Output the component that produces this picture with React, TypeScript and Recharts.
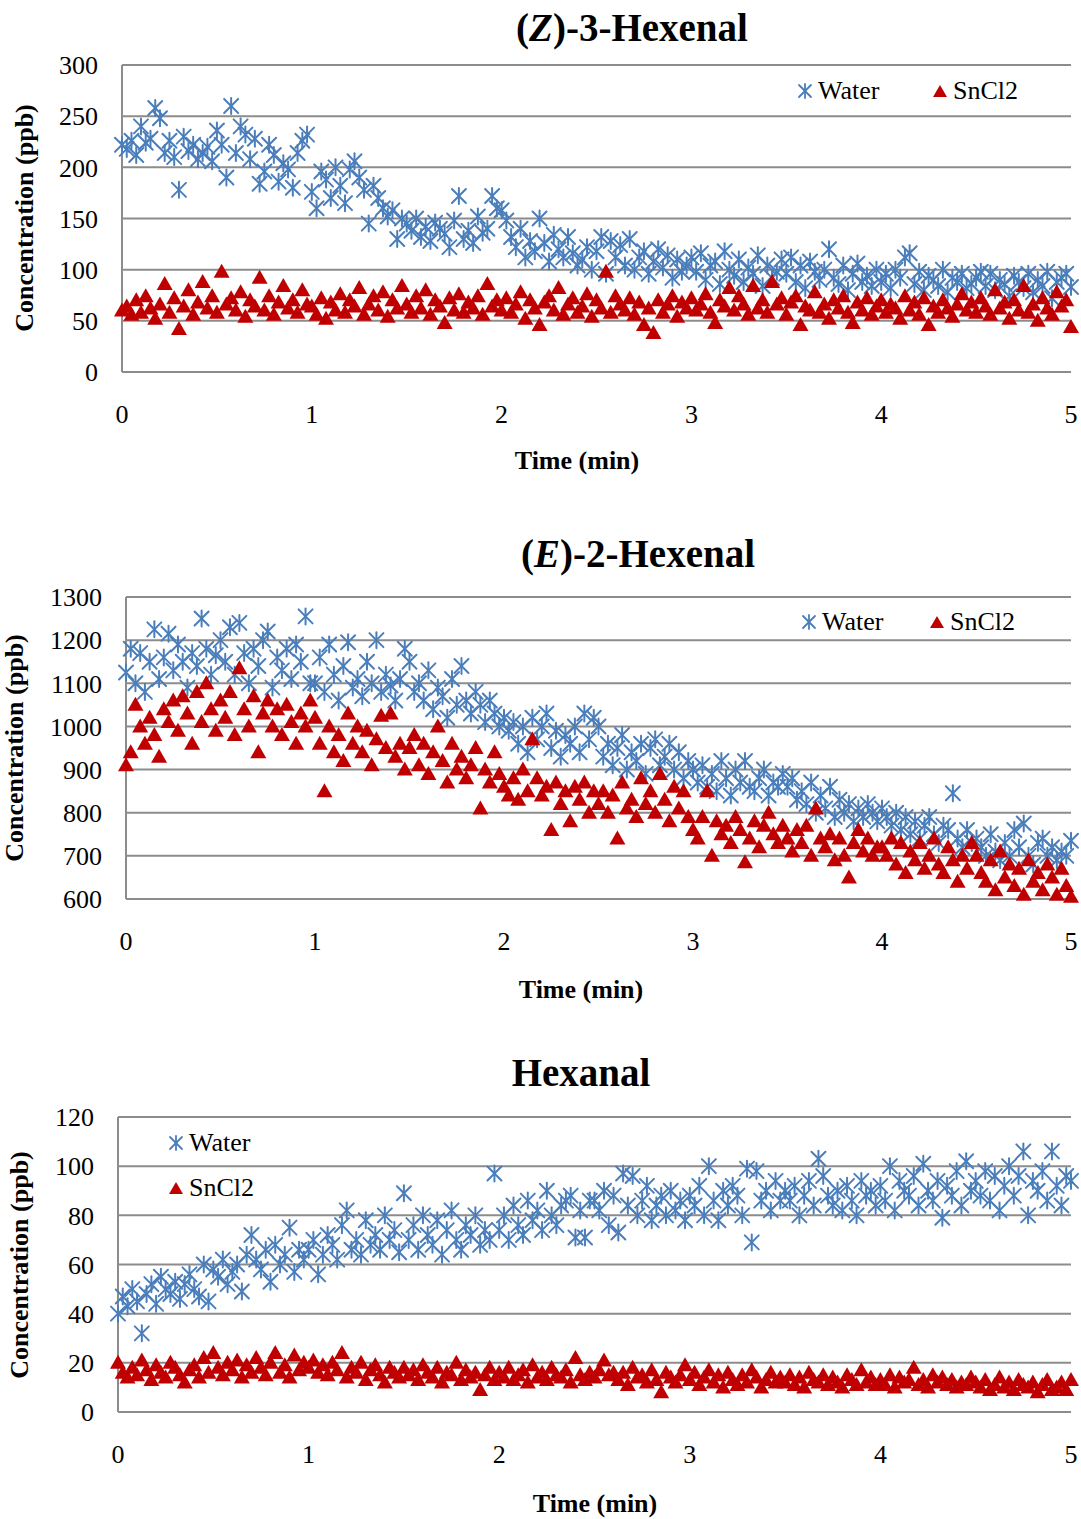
import React from "react";
import { CartesianGrid, Scatter, ScatterChart, XAxis, YAxis } from "recharts";

// sampling interval of the PTR-MS traces (min)
const STEP_MIN = 0.025;
const X_TICKS = [0, 1, 2, 3, 4, 5];

// (Z)-3-Hexenal, ppb
const Z3_TICKS = [0, 50, 100, 150, 200, 250, 300];
const z3Water = [
  222, 218, 226, 212, 240, 224, 228, 258, 248, 214, 226, 210, 178, 230, 216, 222, 208, 214, 220, 206,
  236, 222, 190, 260, 214, 240, 232, 208, 228, 184, 196, 222, 212, 186, 204, 198, 180, 214, 226, 232,
  176, 160, 196, 188, 170, 200, 182, 165, 198, 206, 190, 178, 145, 182, 170, 160, 152, 158, 130, 150,
  145, 138, 150, 132, 142, 128, 146, 140, 135, 122, 148, 172, 130, 138, 126, 152, 136, 140, 172, 160,
  158, 148, 132, 122, 140, 112, 128, 118, 150, 126, 108, 134, 120, 112, 132, 116, 104, 110, 122, 100,
  118, 132, 96, 128, 112, 124, 104, 130, 100, 112, 118, 96, 108, 120, 102, 114, 92, 110, 98, 104,
  112, 98, 116, 90, 104, 108, 86, 118, 100, 94, 110, 88, 102, 96, 114, 84, 104, 92, 98, 110,
  96, 112, 88, 104, 82, 108, 98, 90, 100, 120, 92, 86, 104, 80, 96, 106, 88, 94, 84, 100,
  88, 96, 82, 100, 92, 112, 116, 86, 98, 80, 94, 90, 84, 100, 78, 92, 88, 96, 82, 86,
  92, 98, 84, 96, 80, 90, 86, 74, 94, 88, 82, 96, 78, 90, 84, 98, 72, 88, 92, 96,
  83,
];
const z3Sn = [
  60, 64, 56, 70, 58, 74, 62, 52, 66, 86, 58, 72, 42, 64, 80, 56, 68, 88, 62, 74,
  58, 98, 66, 72, 60, 78, 54, 70, 64, 92, 60, 74, 56, 68, 84, 62, 70, 58, 80, 66,
  64, 56, 72, 52, 68, 60, 76, 58, 70, 64, 82, 56, 66, 74, 60, 78, 54, 70, 62, 84,
  66, 58, 74, 62, 80, 56, 70, 64, 48, 72, 60, 76, 58, 68, 62, 74, 56, 86, 64, 70,
  60, 72, 58, 66, 78, 52, 70, 62, 46, 68, 74, 60, 82, 56, 66, 72, 58, 64, 76, 54,
  70, 62, 98, 58, 74, 66, 60, 72, 56, 68, 46, 62, 38, 70, 58, 66, 74, 54, 68, 62,
  72, 60, 66, 76, 58, 48, 70, 64, 82, 60, 74, 66, 56, 84, 62, 70, 58, 88, 66, 72,
  56, 68, 74, 46, 64, 60, 78, 58, 66, 52, 70, 62, 74, 58, 48, 68, 60, 72, 56, 64,
  70, 58, 66, 62, 52, 74, 60, 68, 56, 72, 46, 64, 58, 70, 62, 54, 66, 76, 60, 68,
  58, 72, 64, 56, 80, 62, 68, 52, 70, 60, 84, 58, 66, 50, 72, 62, 56, 78, 64, 70,
  44,
];

// (E)-2-Hexenal, ppb
const E2_TICKS = [600, 700, 800, 900, 1000, 1100, 1200, 1300];
const e2Water = [
  1125, 1180, 1100, 1170, 1080, 1150, 1225, 1110, 1160, 1215, 1130, 1190, 1150, 1090, 1170, 1140, 1250, 1180, 1120, 1165,
  1200, 1150, 1230, 1120, 1240, 1170, 1100, 1180, 1140, 1200, 1220, 1090, 1160, 1130, 1180, 1110, 1190, 1150, 1255, 1100,
  1100, 1160, 1080, 1190, 1120, 1060, 1140, 1195, 1090, 1110, 1070, 1150, 1100, 1200, 1080, 1120, 1095, 1060, 1110, 1180,
  1150, 1080, 1100, 1060, 1130, 1040, 1090, 1070, 1020, 1110, 1050, 1140, 1060, 1030, 1080, 1050, 1010, 1060, 1030, 1000,
  1020, 990, 1010, 960, 1000, 940, 1020, 970, 1000, 1030, 950, 990, 930, 980, 960, 1000, 940, 1030, 970, 1020,
  1000, 930, 960, 910, 950, 980, 900, 940, 920, 960, 890, 950, 970, 910, 930, 960, 900, 940, 880, 920,
  900, 870, 910, 860, 890, 850, 920, 880, 840, 900, 870, 920, 860, 850, 880, 900, 840, 870, 860, 890,
  860, 880, 830, 850, 820, 870, 800, 840, 810, 860, 790, 830, 800, 820, 780, 810, 790, 820, 800, 780,
  810, 790, 770, 800, 760, 790, 750, 780, 740, 770, 790, 750, 730, 770, 760, 845, 740, 720, 760, 730,
  740, 720, 700, 750, 710, 690, 730, 700, 760, 720, 775, 700, 680, 730, 740, 700, 720, 690, 710, 700,
  735,
];
const e2Sn = [
  910, 940, 1050, 1000, 960, 1020, 980, 930, 1040, 1010, 1060, 990, 1070, 1030, 960, 1080, 1010, 1100, 1040, 990,
  1060, 1020, 1080, 980, 1135, 1040, 1000, 1070, 940, 1030, 1060, 1000, 1040, 980, 1050, 1010, 960, 1030, 1000, 1060,
  1020, 960, 850, 1000, 940, 980, 920, 1030, 960, 1000, 940, 990, 910, 970, 1025, 950, 1030, 930, 960, 900,
  950, 980, 910, 960, 890, 940, 1000, 920, 870, 960, 900, 930, 880, 910, 950, 810, 900, 870, 940, 890,
  860, 840, 880, 830, 900, 850, 970, 880, 840, 860, 760, 870, 820, 850, 780, 860, 830, 870, 800, 850,
  820, 850, 800, 840, 740, 870, 810, 830, 790, 880, 820, 850, 800, 890, 830, 780, 860, 810, 850, 790,
  760, 740, 790, 850, 700, 780, 750, 770, 730, 790, 760, 685, 740, 780, 720, 770, 800, 750, 730, 770,
  740, 710, 760, 730, 770, 700, 810, 740, 720, 750, 690, 740, 700, 650, 730, 760, 710, 740, 700, 720,
  720, 700, 740, 680, 730, 660, 710, 690, 730, 670, 700, 740, 680, 660, 720, 690, 640, 700, 670, 730,
  700, 660, 640, 690, 620, 710, 650, 680, 630, 670, 610, 690, 640, 660, 620, 680, 650, 610, 670, 630,
  605,
];

// Hexanal, ppb
const HX_TICKS = [0, 20, 40, 60, 80, 100, 120];
const hxWater = [
  40, 47, 43, 50, 45, 32, 48, 52, 44, 55, 50, 48, 53, 46, 52, 56, 50, 47, 60, 45,
  58, 55, 62, 52, 57, 60, 49, 64, 72, 62, 58, 66, 53, 68, 60, 64, 75, 57, 66, 62,
  66, 70, 56, 64, 72, 68, 62, 76, 82, 66, 70, 64, 78, 68, 72, 66, 80, 70, 74, 65,
  89, 70, 76, 66, 80, 72, 68, 78, 64, 74, 82, 70, 66, 76, 72, 80, 68, 74, 70, 97,
  74, 80, 70, 84, 76, 72, 86, 78, 82, 74, 90, 80, 76, 84, 86, 88, 71, 82, 71, 86,
  86, 82, 90, 76, 88, 73, 97, 84, 96, 80, 86, 92, 78, 84, 88, 80, 90, 82, 86, 78,
  88, 84, 92, 80, 100, 86, 78, 90, 84, 92, 88, 80, 99, 69, 98, 86, 90, 82, 94, 86,
  90, 86, 92, 80, 88, 94, 84, 103, 96, 88, 84, 90, 82, 92, 86, 80, 94, 88, 90, 84,
  92, 86, 100, 82, 94, 90, 88, 96, 84, 101, 90, 86, 94, 79, 92, 88, 98, 84, 102, 90,
  94, 88, 98, 86, 96, 82, 92, 100, 88, 96, 106, 80, 94, 90, 98, 86, 106, 92, 84, 96,
  94,
];
const hxSn = [
  20, 16, 14, 18, 15, 21, 17, 13, 19, 16, 14, 20, 18, 15, 12, 17, 19, 14, 22, 16,
  24, 18, 15, 20, 17, 21, 14, 19, 16, 22, 18, 15, 20, 24, 16, 19, 14, 23, 17, 20,
  18, 21, 16, 19, 15, 20, 17, 24, 14, 18, 16, 20, 13, 17, 19, 15, 12, 18, 16, 14,
  18, 15, 17, 13, 19, 16, 14, 18, 12, 16, 15, 20, 13, 17, 14, 16, 9, 15, 18, 13,
  16, 14, 18, 13, 15, 17, 12, 19, 14, 16, 13, 18, 15, 14, 17, 12, 22, 15, 13, 16,
  14, 17, 21, 15, 16, 13, 16, 11, 18, 14, 15, 12, 17, 13, 8, 16, 14, 12, 15, 19,
  13, 16, 11, 14, 17, 12, 15, 10, 16, 13, 11, 15, 12, 17, 14, 10, 13, 16, 12, 14,
  12, 15, 11, 14, 10, 16, 13, 12, 15, 11, 14, 12, 10, 15, 13, 11, 17, 12, 14, 11,
  13, 11, 15, 10, 14, 12, 13, 18, 11, 13, 10, 15, 12, 14, 11, 13, 10, 12, 11, 14,
  12, 10, 13, 9, 11, 14, 10, 12, 9, 13, 11, 10, 12, 8, 11, 13, 9, 10, 12, 9,
  13,
];

const BLUE = "#4a7ebb";
const RED = "#c00000";
const GRID = "#8c8c8c";
const FONT = "'Liberation Serif', 'Times New Roman', serif";

const toPoints = (vals: number[]) => vals.map((v, i) => ({ t: +(i * STEP_MIN).toFixed(3), v }));

function Asterisk({ cx, cy }: { cx?: number; cy?: number }) {
  if (cx == null || cy == null) return null;
  const r = 7;
  return (
    <g stroke={BLUE} strokeWidth={2} strokeLinecap="round">
      <line x1={cx - r} y1={cy - r} x2={cx + r} y2={cy + r} />
      <line x1={cx - r} y1={cy + r} x2={cx + r} y2={cy - r} />
      <line x1={cx} y1={cy - r - 1} x2={cx} y2={cy + r + 1} />
    </g>
  );
}

function Triangle({ cx, cy }: { cx?: number; cy?: number }) {
  if (cx == null || cy == null) return null;
  return <polygon points={`${cx},${cy - 8} ${cx + 8},${cy + 6} ${cx - 8},${cy + 6}`} fill={RED} />;
}

function SmallTriangle({ cx, cy }: { cx: number; cy: number }) {
  return <polygon points={`${cx},${cy - 7} ${cx + 7},${cy + 5} ${cx - 7},${cy + 5}`} fill={RED} />;
}

const abs = (x: number, y: number, extra: React.CSSProperties = {}): React.CSSProperties => ({
  position: "absolute", left: x, top: y, transform: "translate(-50%, -50%)", whiteSpace: "nowrap", lineHeight: 1, ...extra,
});

function LegendItem({ x, y, kind, label }: { x: number; y: number; kind: "w" | "s"; label: string }) {
  return (
    <>
      <svg style={{ position: "absolute", left: x - 10, top: y - 10 }} width={20} height={20}>
        {kind === "w" ? (
          <g stroke={BLUE} strokeWidth={1.8} strokeLinecap="round">
            <line x1={4} y1={4} x2={16} y2={16} />
            <line x1={4} y1={16} x2={16} y2={4} />
            <line x1={10} y1={3} x2={10} y2={17} />
          </g>
        ) : <SmallTriangle cx={10} cy={11} />}
      </svg>
      <div style={{ position: "absolute", left: x + 13, top: y, transform: "translateY(-50%)", fontSize: 26, lineHeight: 1 }}>{label}</div>
    </>
  );
}

type PanelProps = {
  top: number; plotTop: number; plotBottom: number; plotLeft: number;
  domain: [number, number]; ticks: number[]; water: number[]; sn: number[];
};

function Panel({ top, plotTop, plotBottom, plotLeft, domain, ticks, water, sn }: PanelProps) {
  const xAxisH = 60;
  const height = plotBottom - top + xAxisH;
  return (
    <div style={{ position: "absolute", left: 0, top }}>
      <ScatterChart width={1081} height={height} margin={{ top: plotTop - top, right: 10, bottom: 0, left: 0 }}>
        <CartesianGrid vertical={false} stroke={GRID} strokeWidth={2} />
        <XAxis
          type="number" dataKey="t" domain={[0, 5]} ticks={X_TICKS} height={xAxisH}
          axisLine={false} tickLine={false} tickSize={0} tickMargin={33}
          tick={{ fontSize: 26, fill: "#000", fontFamily: FONT }}
        />
        <YAxis
          type="number" dataKey="v" domain={domain} ticks={ticks} width={plotLeft} interval={0}
          axisLine={{ stroke: GRID, strokeWidth: 2 }} tickLine={false} tickSize={0} tickMargin={24}
          tick={{ fontSize: 26, fill: "#000", fontFamily: FONT }}
        />
        <Scatter data={toPoints(water)} shape={(p: any) => <Asterisk cx={p.cx} cy={p.cy} />} isAnimationActive={false} />
        <Scatter data={toPoints(sn)} shape={(p: any) => <Triangle cx={p.cx} cy={p.cy} />} isAnimationActive={false} />
      </ScatterChart>
    </div>
  );
}

export default function App() {
  const title: React.CSSProperties = { fontSize: 39, fontWeight: "bold" };
  const axisT: React.CSSProperties = { fontSize: 26, fontWeight: "bold" };
  return (
    <div style={{ position: "absolute", left: 0, top: 0, width: 1081, height: 1519, background: "#fff", fontFamily: FONT, color: "#000" }}>
      <Panel top={0} plotTop={65} plotBottom={372} plotLeft={122} domain={[0, 300]} ticks={Z3_TICKS} water={z3Water} sn={z3Sn} />
      <Panel top={520} plotTop={597} plotBottom={899} plotLeft={126} domain={[600, 1300]} ticks={E2_TICKS} water={e2Water} sn={e2Sn} />
      <Panel top={1040} plotTop={1117} plotBottom={1412} plotLeft={118} domain={[0, 120]} ticks={HX_TICKS} water={hxWater} sn={hxSn} />

      <div style={abs(632, 27, title)}>(<i>Z</i>)-3-Hexenal</div>
      <div style={abs(638, 553, title)}>(<i>E</i>)-2-Hexenal</div>
      <div style={abs(581, 1072, title)}>Hexanal</div>

      <div style={abs(577, 461, axisT)}>Time (min)</div>
      <div style={abs(581, 990, axisT)}>Time (min)</div>
      <div style={abs(595, 1504, axisT)}>Time (min)</div>

      <div style={abs(25, 218, { ...axisT, transform: "translate(-50%, -50%) rotate(-90deg)" })}>Concentration (ppb)</div>
      <div style={abs(15, 748, { ...axisT, transform: "translate(-50%, -50%) rotate(-90deg)" })}>Concentration (ppb)</div>
      <div style={abs(20, 1265, { ...axisT, transform: "translate(-50%, -50%) rotate(-90deg)" })}>Concentration (ppb)</div>

      <LegendItem x={805} y={91} kind="w" label="Water" />
      <LegendItem x={940} y={91} kind="s" label="SnCl2" />
      <LegendItem x={809} y={622} kind="w" label="Water" />
      <LegendItem x={937} y={622} kind="s" label="SnCl2" />
      <LegendItem x={176} y={1143} kind="w" label="Water" />
      <LegendItem x={176} y={1188} kind="s" label="SnCl2" />
    </div>
  );
}
